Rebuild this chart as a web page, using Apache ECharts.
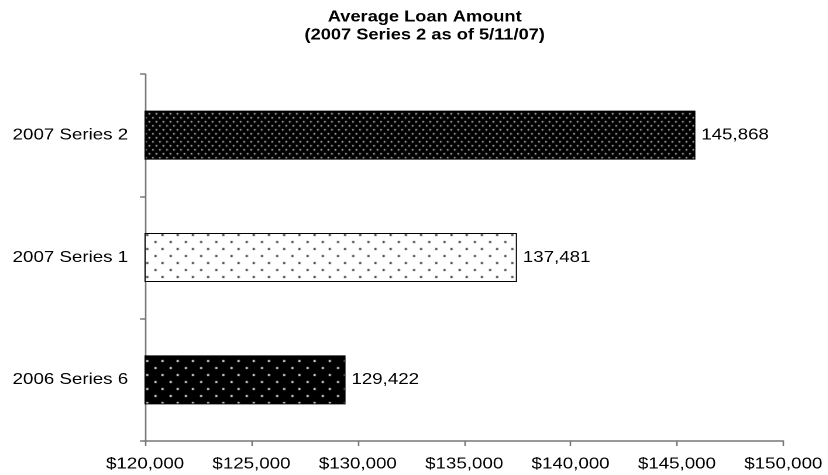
<!DOCTYPE html>
<html>
<head>
    <meta charset="utf-8">
    <title>index</title>
    <script src="https://cdn.jsdelivr.net/npm/echarts@6/dist/echarts.min.js"></script>
    <style>
        html, body { margin: 0; padding: 0; background: #fff; overflow: hidden; }
        /* the original picture is stretched sideways, so draw narrower and stretch it back */
        #chart { width: 708px; height: 475px; transform: scaleX(1.17); transform-origin: 0 0; }
    </style>
</head>
<body>
    <div id="chart"></div>
<script>
    // data
    var categories = ['2006 Series 6', '2007 Series 1', '2007 Series 2'];
    var values = [129422, 137481, 145868];
    var xTicks = [120000, 125000, 130000, 135000, 140000, 145000, 150000];

    // little dot tiles for the bar fills
    function dots(w, h, bg, fg, pts, rw, rh) {
        var c = document.createElement('canvas');
        c.width = w; c.height = h;
        var g = c.getContext('2d');
        g.fillStyle = bg;
        g.fillRect(0, 0, w, h);
        g.fillStyle = fg;
        pts.forEach(function (p) {
            g.fillRect(p[0], p[1], rw, rh);
        });
        return { image: c, repeat: 'repeat' };
    }

    var fills = [
        dots(13, 14, '#000', '#fff', [[2, 3], [8, 10]], 1.7, 2),
        dots(13, 14, '#fff', '#222', [[2, 3], [8, 10]], 1.7, 2),
        dots(6, 8, '#000', '#ddd', [[1, 1], [4, 5]], 1.3, 1.5)
    ];

    var chart = echarts.init(document.getElementById('chart'), null, { devicePixelRatio: 2 });
    chart.setOption({
        animation: false,
        textStyle: { fontFamily: '"Liberation Sans", Arial, sans-serif', color: '#000' },
        title: {
            text: 'Average Loan Amount\n(2007 Series 2 as of 5/11/07)',
            left: 358,
            top: 3,
            textAlign: 'center',
            textStyle: { fontSize: 15.6, fontWeight: 'bold', lineHeight: 18, color: '#000' }
        },
        grid: { left: 124, right: 38.5, top: 74, bottom: 34, containLabel: false },
        xAxis: {
            type: 'value',
            min: xTicks[0],
            max: xTicks[xTicks.length - 1],
            interval: 5000,
            splitLine: { show: false },
            axisLine: { show: true, lineStyle: { color: '#777', width: 1.5 } },
            axisTick: { show: true, length: 5, lineStyle: { color: '#777', width: 1.3 } },
            axisLabel: {
                margin: 15,
                fontSize: 16,
                color: '#000',
                formatter: function (v) { return '$' + v.toLocaleString('en-US'); }
            }
        },
        yAxis: {
            type: 'category',
            data: categories,
            axisLine: { show: true, lineStyle: { color: '#777', width: 1.3 } },
            axisTick: { show: true, length: 4.3, lineStyle: { color: '#777', width: 1.5 } },
            axisLabel: { margin: 14.5, fontSize: 16, color: '#000' }
        },
        series: [{
            type: 'bar',
            barWidth: 49,
            data: values.map(function (v, i) {
                return { value: v, itemStyle: { color: fills[i] } };
            }),
            itemStyle: { borderColor: '#000', borderWidth: 1 },
            label: {
                show: true,
                position: 'right',
                distance: 5,
                fontSize: 16,
                color: '#000',
                formatter: function (p) { return p.value.toLocaleString('en-US'); }
            }
        }]
    });
</script>
</body>
</html>
